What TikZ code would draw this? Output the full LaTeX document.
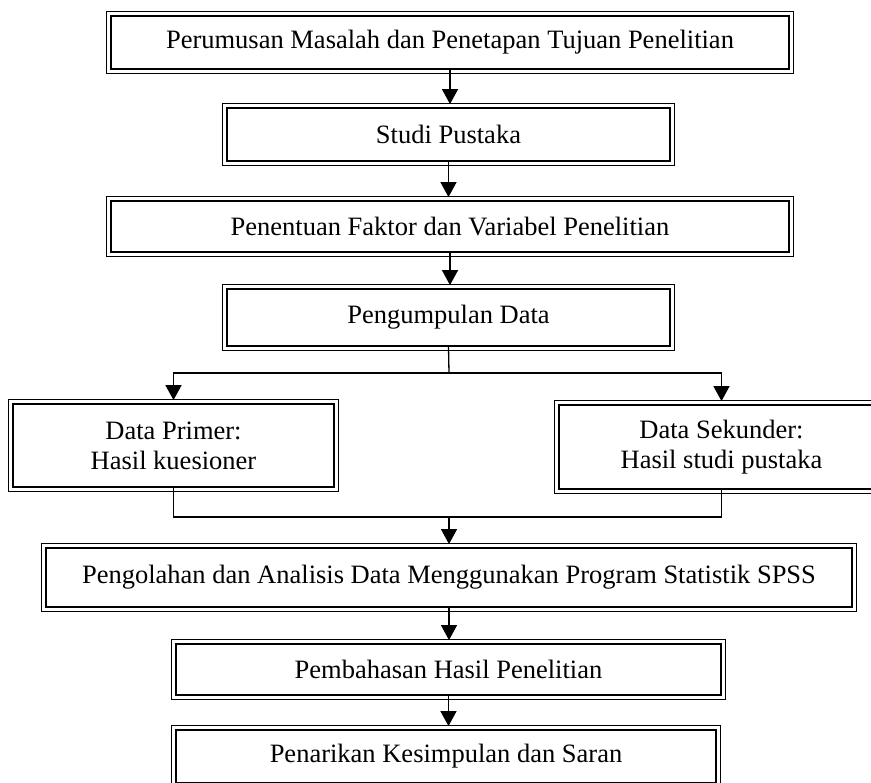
\documentclass[tikz,border=0pt]{standalone}
\usepackage{fontspec}
\setmainfont{Liberation Serif}
\usetikzlibrary{arrows.meta,calc}
\tikzset{
  boxin/.style={draw, line width=2pt, rectangle, inner sep=0pt, align=center,
    font=\fontsize{26.5}{30}\selectfont},
  boxout/.style={draw, line width=1.3pt},
  conn/.style={draw, line width=1.3pt},
  arr/.style={conn, -{Triangle[width=16pt,length=15pt]}, shorten >=3.2pt},
}
\newcommand\mybox[6]{%
  \node[boxin, minimum width={#4-#2-8.6}, minimum height={#5-#3-8.6}]
    (#1) at ({(#2+#4)/2},{(#3+#5)/2}) {#6};
  \draw[boxout] ($(#1.north west)+(-3.6,-3.6)$) rectangle ($(#1.south east)+(3.6,3.6)$);
}
\begin{document}
\begin{tikzpicture}[x=1pt,y=-1pt]
\path[use as bounding box] (0,0) rectangle (871,783);
\clip (0,0) rectangle (871,783);
\mybox{b1}{107}{12}{793}{73}{Perumusan Masalah dan Penetapan Tujuan Penelitian}
\mybox{b2}{223}{104}{674}{165}{Studi Pustaka}
\mybox{b3}{107}{197}{793}{256}{Penentuan Faktor dan Variabel Penelitian}
\mybox{b4}{223}{285}{674}{350}{Pengumpulan Data}
\mybox{prim}{9}{400}{338}{491}{Data Primer:\\Hasil kuesioner}
\mybox{sek}{555}{401}{888}{493}{Data Sekunder:\\Hasil studi pustaka}
\mybox{b5}{42}{544}{856}{611}{Pengolahan dan Analisis Data Menggunakan Program Statistik SPSS}
\mybox{b6}{172}{640}{725}{699}{Pembahasan Hasil Penelitian}
\mybox{b7}{172}{726}{720}{787}{Penarikan Kesimpulan dan Saran}
\coordinate (fork) at (449,373);
\coordinate (join) at (449,517);
\draw[arr] (b1.south) -- (b1.south |- b2.north);
\draw[arr] (b2.south) -- (b2.south |- b3.north);
\draw[arr] (b3.south) -- (b3.south |- b4.north);
\draw[conn] (b4.south) -- (fork);
\draw[arr] (fork) -| (prim.north);
\draw[arr] (fork) -| (sek.north);
\draw[conn] (prim.south) |- (join) -| (sek.south);
\draw[arr] (join) -- (join |- b5.north);
\draw[arr] (b5.south) -- (b5.south |- b6.north);
\draw[arr] (b6.south) -- (b6.south |- b7.north);
\end{tikzpicture}
\end{document}
